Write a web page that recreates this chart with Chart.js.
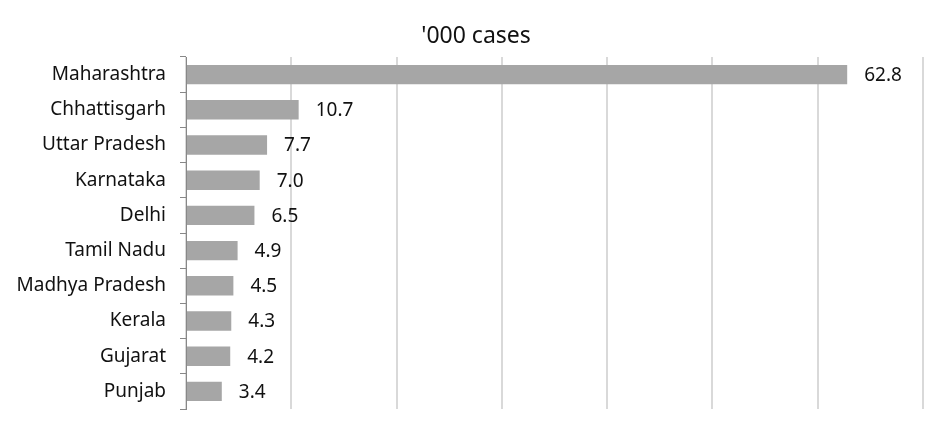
<!DOCTYPE html>
<html>
<head>
<meta charset="utf-8">
<script src="https://cdn.jsdelivr.net/npm/chart.js"></script>
<style>
  html, body { margin: 0; padding: 0; background: #fff; }
  #wrap { width: 952px; height: 438px; }
</style>
</head>
<body>
<div id="wrap"><canvas id="grafico"></canvas></div>
<script>
// Dados do gráfico
const estados = ["Maharashtra", "Chhattisgarh", "Uttar Pradesh", "Karnataka", "Delhi",
    "Tamil Nadu", "Madhya Pradesh", "Kerala", "Gujarat", "Punjab"];
const casos = [62.8, 10.7, 7.7, 7.0, 6.5, 4.9, 4.5, 4.3, 4.2, 3.4];
const titulo = "'000 cases";

const fonte = "'Noto Sans', sans-serif";

// Rótulos de valor no fim das barras + título centrado na página
const rotulosPlugin = {
    id: "rotulos",
    afterDatasetsDraw(chart) {
        const ctx = chart.ctx;
        const meta = chart.getDatasetMeta(0);
        ctx.save();
        ctx.font = "19px " + fonte;
        ctx.fillStyle = "#111";
        ctx.textAlign = "left";
        ctx.textBaseline = "middle";
        meta.data.forEach((bar, i) => {
            ctx.fillText(casos[i].toFixed(1), bar.x + 17, bar.y + 1);
        });
        ctx.font = "23px " + fonte;
        ctx.textAlign = "center";
        ctx.fillText(titulo, chart.width / 2, 36);
        ctx.restore();
    }
};

new Chart(document.getElementById("grafico"), {
    type: "bar",
    data: {
        labels: estados,
        datasets: [{
            data: casos,
            backgroundColor: "#a6a6a6",
            barPercentage: 0.55,
            categoryPercentage: 1
        }]
    },
    options: {
        indexAxis: "y",
        responsive: true,
        maintainAspectRatio: false,
        animation: false,
        layout: { padding: { left: 0, right: 29, top: 57, bottom: 29 } },
        plugins: {
            legend: { display: false },
            tooltip: { enabled: false },
            title: { display: false }
        },
        scales: {
            x: {
                min: 0,
                max: 70,
                ticks: { display: false, stepSize: 10 },
                grid: { color: "#d9d9d9", lineWidth: 2, drawTicks: false },
                border: { display: false }
            },
            y: {
                afterFit(scale) { scale.width = 186; },
                ticks: { color: "#111", font: { family: fonte, size: 19 }, padding: 14 },
                grid: { drawOnChartArea: false, color: "#888", tickLength: 6 },
                border: { color: "#888", width: 1 }
            }
        }
    },
    plugins: [rotulosPlugin]
});
</script>
</body>
</html>
